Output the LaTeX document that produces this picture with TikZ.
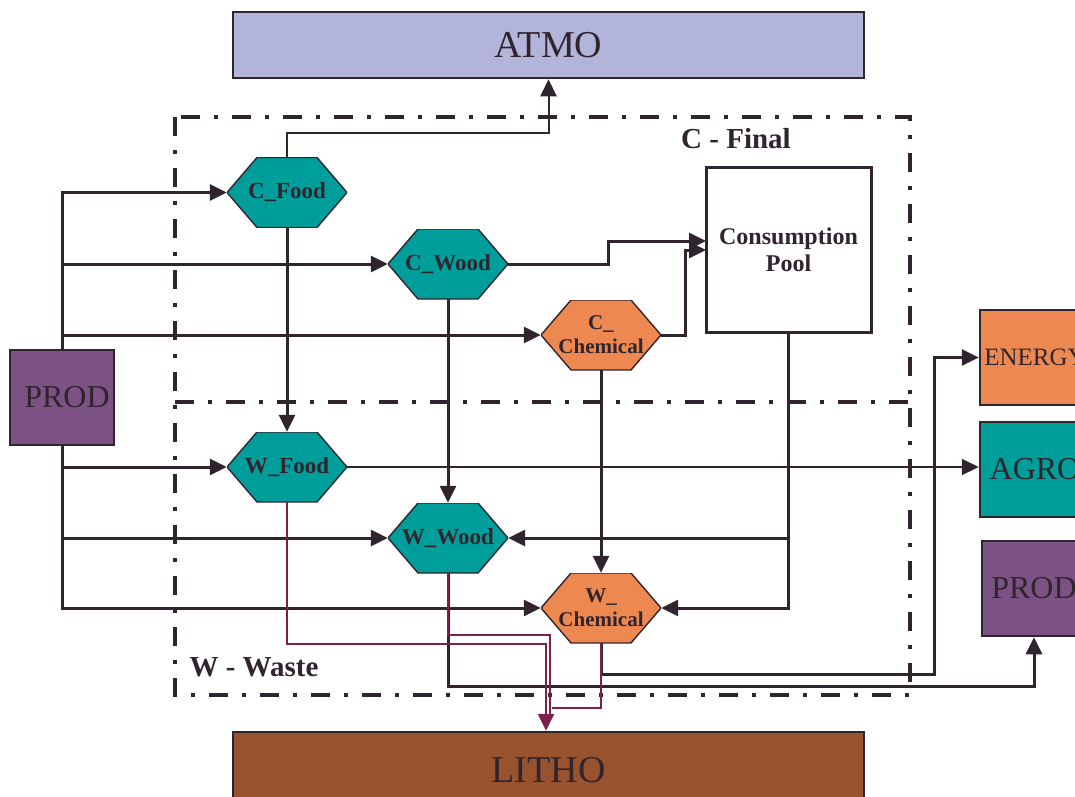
\documentclass[tikz,border=0pt]{standalone}
\usepackage{fontspec}
\setmainfont{Liberation Serif}
\usetikzlibrary{arrows.meta, positioning}

\definecolor{inkdark}{HTML}{30252F}
\definecolor{atmoblue}{HTML}{B3B4DA}
\definecolor{lithobrown}{HTML}{98532E}
\definecolor{tealpool}{HTML}{009E9A}
\definecolor{orangepool}{HTML}{EC8850}
\definecolor{prodpurple}{HTML}{7C5284}
\definecolor{wastered}{HTML}{7E1E4C}

\begin{document}
\begin{tikzpicture}[x=1pt, y=-1pt,
  reservoir/.style={rectangle, draw=inkdark, line width=2.5pt, text=inkdark,
                    inner sep=0pt, text centered},
  hexa/.style={rectangle, text=inkdark, inner sep=0pt,
               minimum width=120pt, minimum height=70pt, align=center,
               font=\fontsize{23}{24}\selectfont\bfseries,
               path picture={
                 \draw[draw=inkdark, fill=#1, line width=1.4pt]
                   (path picture bounding box.west)
                   -- ([xshift=30pt]path picture bounding box.north west)
                   -- ([xshift=-30pt]path picture bounding box.north east)
                   -- (path picture bounding box.east)
                   -- ([xshift=-30pt]path picture bounding box.south east)
                   -- ([xshift=30pt]path picture bounding box.south west)
                   -- cycle;}},
  link/.style={draw=inkdark, line width=3pt},
  thinlink/.style={draw=inkdark, line width=2pt},
  waste/.style={draw=wastered, line width=2.6pt},
  arr/.style={-{Triangle[length=17pt, width=16pt]}},
  frame/.style={draw=inkdark, line width=4pt,
                dash pattern=on 19pt off 14pt on 4pt off 14pt},
  tag/.style={text=inkdark, font=\fontsize{29}{32}\selectfont\bfseries}
]
\clip (0,0) rectangle (1075,796);

% compartments
\draw[frame] (175,117) rectangle (910,695);
\draw[frame] (175,402) -- (910,402);
\node[tag] (cfinal) at (736,139) {C - Final};
\node[tag] (wwaste) at (254,667) {W - Waste};

% reservoirs
\node[reservoir, fill=atmoblue, minimum width=631pt, minimum height=66pt,
      font=\fontsize{38}{40}\selectfont] (atmo) at (548.5,45) {ATMO};
\node[reservoir, fill=lithobrown, minimum width=631pt, minimum height=76pt,
      font=\fontsize{38}{40}\selectfont] (litho) at (548.5,770) {LITHO};
\node[reservoir, fill=prodpurple, minimum width=104pt, minimum height=95pt,
      font=\fontsize{32}{34}\selectfont] (prodL) at (62,397.5) {\hspace*{10pt}PROD};
\node[reservoir, fill=orangepool, minimum width=110pt, minimum height=95pt,
      font=\fontsize{25}{28}\selectfont] (energy) at (1035,357.5) {ENERGY};
\node[reservoir, fill=tealpool, minimum width=110pt, minimum height=95pt,
      font=\fontsize{32}{34}\selectfont] (agro) at (1035,469.5) {AGRO};
\node[reservoir, fill=prodpurple, minimum width=104pt, minimum height=95pt,
      font=\fontsize{32}{34}\selectfont] (prodR) at (1034,588.5) {PROD};
\node[reservoir, fill=white, line width=3pt, minimum width=165pt, minimum height=165pt,
      align=center, font=\fontsize{24}{27}\selectfont\bfseries] (pool) at (788.5,249.5)
      {Consumption\\Pool};

% pools
\node[hexa=tealpool]   (cfood) at (287,192.5) {C\_Food};
\node[hexa=tealpool]   (cwood) at (448,264)   {C\_Wood};
\node[hexa=orangepool, font=\fontsize{21}{24}\selectfont\bfseries] (cchem) at (601,335) {C\_\\Chemical};
\node[hexa=tealpool]   (wfood) at (287,467)   {W\_Food};
\node[hexa=tealpool]   (wwood) at (448,538)   {W\_Wood};
\node[hexa=orangepool, font=\fontsize{21}{24}\selectfont\bfseries] (wchem) at (601,608) {W\_\\Chemical};

\coordinate (atmoturn) at (548.5,133);
\coordinate (poolinA) at (706,241);
\coordinate (poolinB) at (706,250);
\coordinate (energyturn) at (934,674);
\coordinate (prodturn) at (1034,686);
\coordinate (lfood) at (546,644);
\coordinate (lwood) at (550,635);
\coordinate (lchem) at (552,708);

% production inputs
\draw[link, arr] (prodL.north) |- (cfood.west);
\draw[link, arr] (prodL.north) |- (cwood.west);
\draw[link, arr] (prodL.north) |- (cchem.west);
\draw[link, arr] (prodL.south) |- (wfood.west);
\draw[link, arr] (prodL.south) |- (wwood.west);
\draw[link, arr] (prodL.south) |- (wchem.west);

% final to waste
\draw[thinlink, arr] (cfood.north) |- (atmoturn) -- (atmo.south);
\draw[link, arr] (cfood.south) -- (wfood.north);
\draw[link, arr] (cwood.south) -- (wwood.north);
\draw[link, arr] (cchem.south) -- (wchem.north);
\draw[link, arr] (cwood.east) -- ++(100,0) |- (poolinA);
\draw[link, arr] (cchem.east) -- ++(24,0) |- (poolinB);
\draw[link, arr] (pool.south) |- (wwood.east);
\draw[link, arr] (pool.south) |- (wchem.east);

% waste outputs
\draw[thinlink, arr] (wfood.east) -- (wfood.east -| agro.west);
\draw[link, arr] (wchem.south) |- (energyturn) |- (energy.west);
\draw[link, arr] (wwood.south) |- (prodturn) -- (prodR.south);
\draw[waste] (wwood.south) |- (lwood) -- ([yshift=14pt]lwood |- litho.north);
\draw[waste] (wchem.south) |- (lchem);
\draw[waste, arr] (wfood.south) |- (lfood) -- (lfood |- litho.north);
\end{tikzpicture}
\end{document}
